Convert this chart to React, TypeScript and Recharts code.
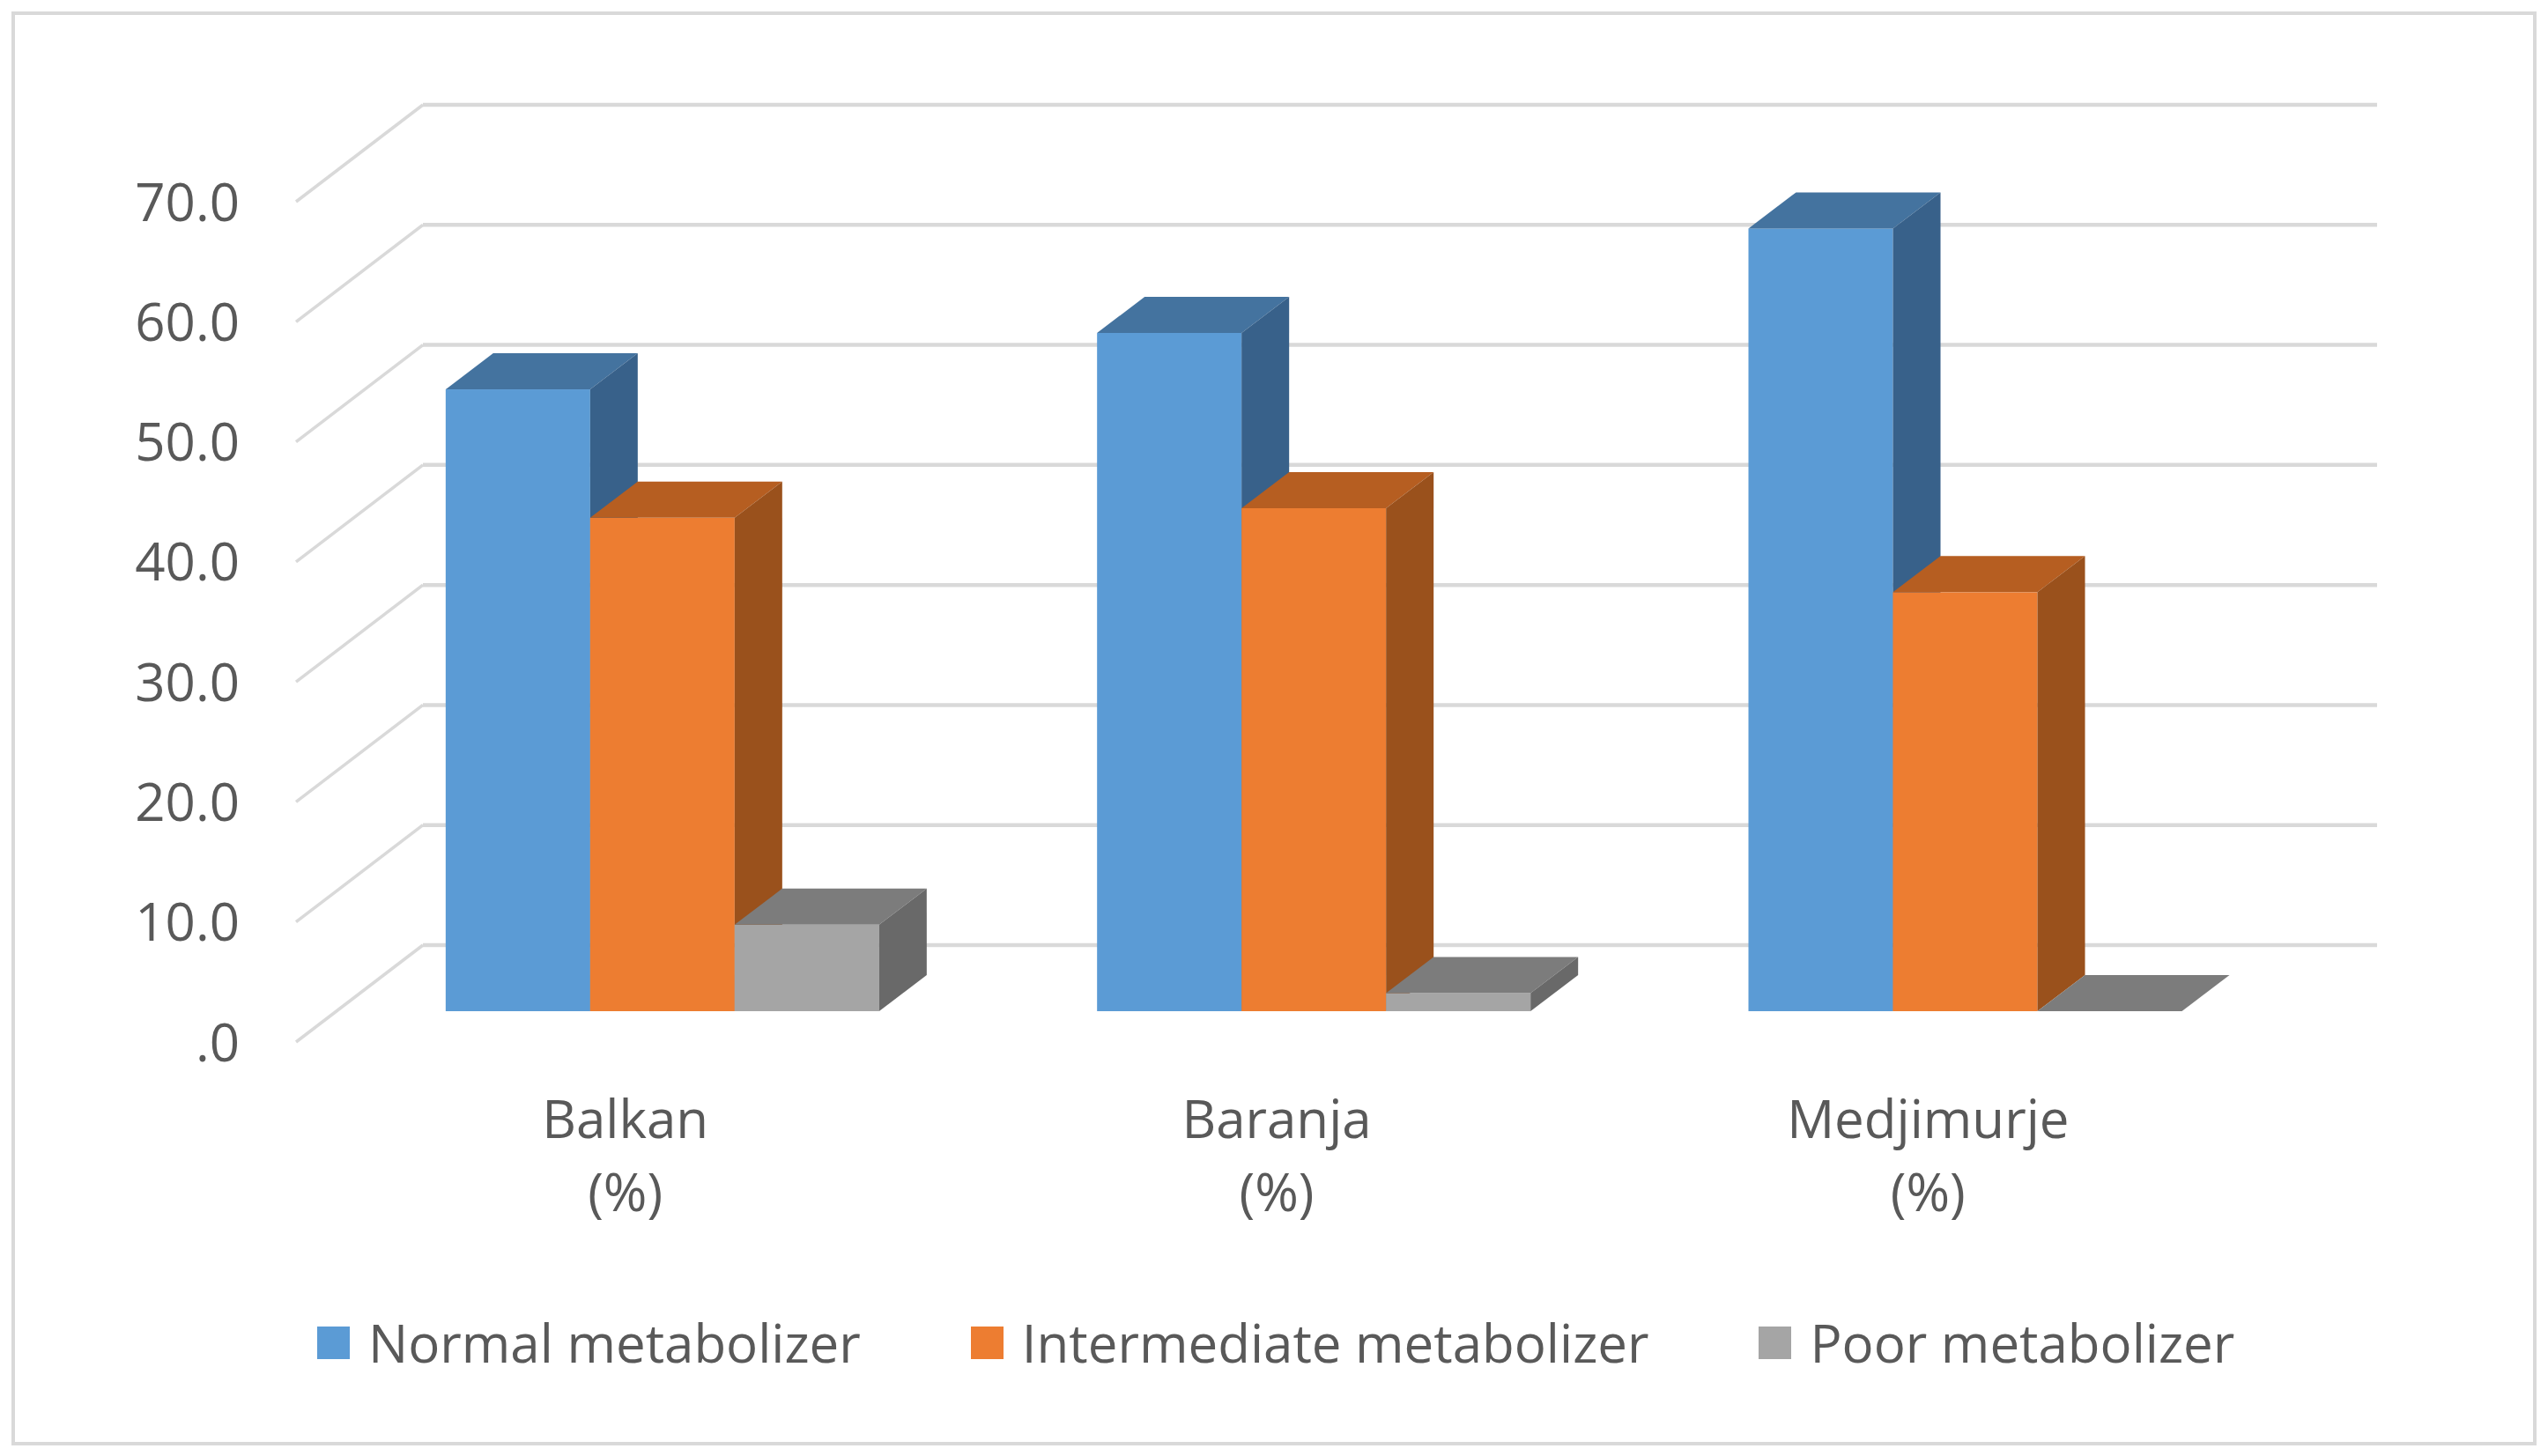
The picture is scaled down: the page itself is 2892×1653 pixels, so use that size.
import { BarChart, Bar, XAxis, YAxis, CartesianGrid, Legend } from "recharts";

const categories = ["Balkan (%)", "Baranja (%)", "Medjimurje (%)"];
const seriesNames = ["Normal metabolizer", "Intermediate metabolizer", "Poor metabolizer"];
const normalValues = [51.8, 56.5, 65.2];
const intermediateValues = [41.1, 41.9, 34.9];
const poorValues = [7.2, 1.5, 0];
const yTicks = [0, 10, 20, 30, 40, 50, 60, 70];

const data = categories.map((name, i) => ({
  name,
  normal: normalValues[i],
  intermediate: intermediateValues[i],
  poor: poorValues[i],
}));

const W = 2892;
const H = 1653;
const FONT = "'Open Sans', sans-serif";
const TEXT = "#595959";
const GRID = "#D9D9D9";

// fake 3D: front plane (labels), back wall (gridlines), bar depth
const FRONT_DX = -46;
const FRONT_DY = 35;
const BACK_DX = 98;
const BACK_DY = -75;
const BAR_DX = 54;
const BAR_DY = -41;

const makeBox = (top: string, side: string) => (props: any) => {
  const { x, y, width, height, fill } = props;
  const r = x + width;
  const b = y + height;
  return (
    <g>
      <rect x={x} y={y} width={width} height={height} fill={fill} />
      <polygon
        points={`${x},${y} ${x + BAR_DX},${y + BAR_DY} ${r + BAR_DX},${y + BAR_DY} ${r},${y}`}
        fill={top}
      />
      <polygon
        points={`${r},${y} ${r + BAR_DX},${y + BAR_DY} ${r + BAR_DX},${b + BAR_DY} ${r},${b}`}
        fill={side}
      />
    </g>
  );
};

const gridLine = (props: any) => {
  const { x1, x2, y1, index } = props;
  return (
    <g key={`grid-${index}`}>
      <line
        x1={x1 + FRONT_DX}
        y1={y1 + FRONT_DY}
        x2={x1 + BACK_DX}
        y2={y1 + BACK_DY}
        stroke={GRID}
        strokeWidth={3.5}
      />
      <line
        x1={x1 + BACK_DX}
        y1={y1 + BACK_DY}
        x2={x2 + BACK_DX}
        y2={y1 + BACK_DY}
        stroke={GRID}
        strokeWidth={4.5}
      />
    </g>
  );
};

const YTick = ({ x, y, payload }: any) => (
  <text
    x={x}
    y={y + FRONT_DY}
    dy="0.36em"
    textAnchor="end"
    fill={TEXT}
    fontSize={60}
    fontFamily={FONT}
  >
    {payload.value === 0 ? ".0" : Number(payload.value).toFixed(1)}
  </text>
);

const XTick = ({ x, y, payload }: any) => {
  const s = String(payload.value);
  const cut = s.lastIndexOf(" ");
  return (
    <text textAnchor="middle" fill={TEXT} fontSize={60} fontFamily={FONT}>
      <tspan x={x - 42} y={y + 144}>
        {s.slice(0, cut)}
      </tspan>
      <tspan x={x - 42} y={y + 227}>
        {s.slice(cut + 1)}
      </tspan>
    </text>
  );
};

const renderLegend = (props: any) => {
  const items = [...(props.payload || [])].sort(
    (a: any, b: any) => seriesNames.indexOf(a.value) - seriesNames.indexOf(b.value)
  );
  return (
    <div
      style={{
        display: "flex",
        alignItems: "center",
        paddingLeft: 360,
        height: 60,
        fontFamily: FONT,
        fontSize: 60,
        color: TEXT,
      }}
    >
      {items.map((p: any) => (
        <div
          key={p.value}
          style={{ display: "flex", alignItems: "center", marginRight: 125 }}
        >
          <span
            style={{
              display: "inline-block",
              width: 37,
              height: 37,
              background: p.color,
              marginRight: 21,
            }}
          />
          <span style={{ lineHeight: "60px", whiteSpace: "nowrap" }}>{p.value}</span>
        </div>
      ))}
    </div>
  );
};

const App = () => {
  return (
    <div
      style={{
        position: "absolute",
        left: 0,
        top: 0,
        width: W,
        height: H,
        background: "#fff",
      }}
    >
      <div
        style={{
          position: "absolute",
          left: 13,
          top: 13,
          width: 2866,
          height: 1628,
          boxSizing: "border-box",
          border: `4px solid ${GRID}`,
        }}
      />
      <BarChart
        width={W}
        height={H}
        data={data}
        margin={{ top: 194, right: 292, bottom: 0, left: 0 }}
        barGap={0}
        barCategoryGap="16.75%"
      >
        <CartesianGrid vertical={false} horizontal={gridLine} />
        <XAxis
          dataKey="name"
          height={505}
          axisLine={false}
          tickLine={false}
          tickSize={0}
          tickMargin={0}
          interval={0}
          tick={<XTick />}
        />
        <YAxis
          domain={[0, 70]}
          ticks={yTicks}
          width={382}
          axisLine={false}
          tickLine={false}
          tickSize={0}
          tickMargin={110}
          tick={<YTick />}
        />
        <Legend
          verticalAlign="middle"
          layout="horizontal"
          wrapperStyle={{ top: 1494, left: 0, width: W, height: 60 }}
          content={renderLegend}
        />
        <Bar
          dataKey="normal"
          name={seriesNames[0]}
          fill="#5B9BD5"
          shape={makeBox("#44739F", "#38618A")}
          isAnimationActive={false}
        />
        <Bar
          dataKey="intermediate"
          name={seriesNames[1]}
          fill="#ED7D31"
          shape={makeBox("#B65E21", "#9A511C")}
          isAnimationActive={false}
        />
        <Bar
          dataKey="poor"
          name={seriesNames[2]}
          fill="#A5A5A5"
          shape={makeBox("#7C7C7C", "#696969")}
          isAnimationActive={false}
        />
      </BarChart>
    </div>
  );
};

export default App;
